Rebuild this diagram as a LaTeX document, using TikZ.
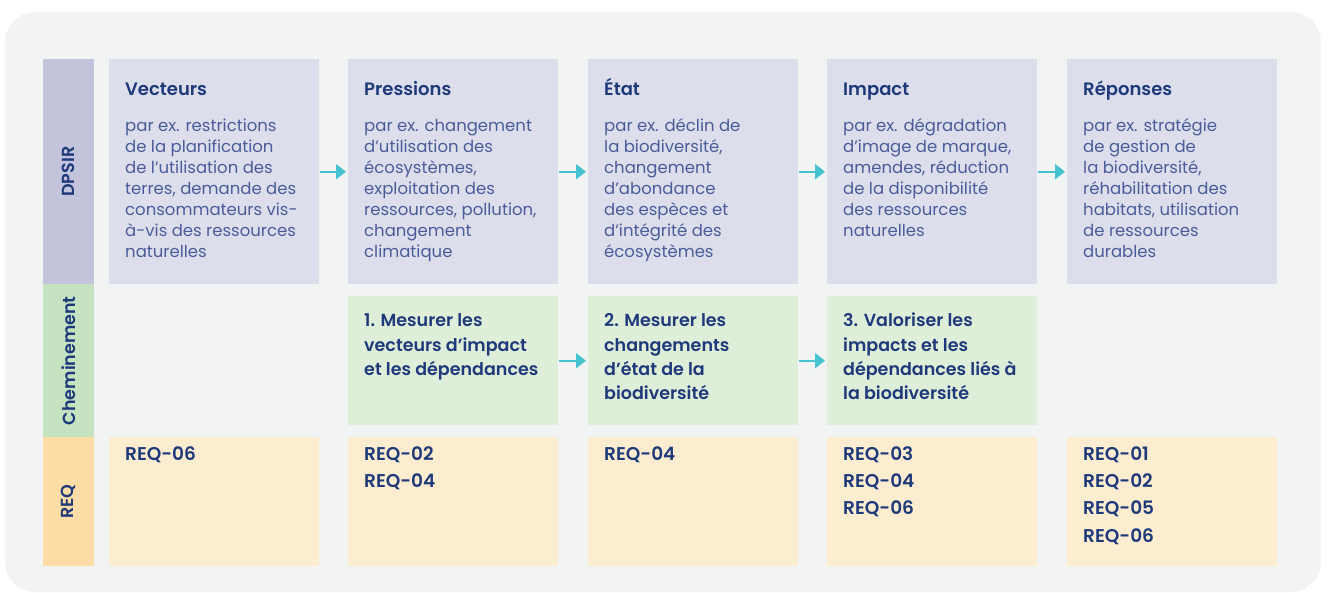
\documentclass[tikz,border=0pt]{standalone}
\usepackage{fontspec}
\setmainfont{Poppins}[BoldFont={Poppins SemiBold}]
\usetikzlibrary{arrows.meta,calc}
\definecolor{bgc}{HTML}{F2F4F3}
\definecolor{dlab}{HTML}{C3C3DC}
\definecolor{dbox}{HTML}{DCDEEC}
\definecolor{glab}{HTML}{C5E3C0}
\definecolor{gbox}{HTML}{DFEED9}
\definecolor{olab}{HTML}{FDDCA5}
\definecolor{obox}{HTML}{FDEDD0}
\definecolor{navy}{HTML}{1F3A7A}
\definecolor{bodyc}{HTML}{4B5C9A}
\definecolor{arr}{HTML}{45C3D0}
\tikzset{
  cell/.style={anchor=north west, inner sep=0pt, minimum width=210pt},
  dcell/.style={cell, fill=dbox, minimum height=225pt},
  gcell/.style={cell, fill=gbox, minimum height=129pt},
  ocell/.style={cell, fill=obox, minimum height=129pt},
  lab/.style={anchor=north west, inner sep=0pt, minimum width=51pt},
  labtxt/.style={rotate=90, text=navy, font=\fontsize{17.5}{20}\selectfont\bfseries},
  ttl/.style={anchor=base west, inner sep=0pt, text=navy, font=\fontsize{18}{20}\selectfont\bfseries},
  bod/.style={anchor=base west, inner sep=0pt, align=left, text=bodyc, font=\fontsize{16.5}{21}\selectfont},
  gtx/.style={anchor=base west, inner sep=0pt, align=left, text=navy, font=\fontsize{17.5}{24.2}\selectfont\bfseries},
  otx/.style={anchor=base west, inner sep=0pt, align=left, text=navy, font=\fontsize{18.5}{27.4}\selectfont\bfseries},
  flow/.style={draw=arr, line width=2pt, -{Triangle[length=10pt,width=15pt]}, shorten <=1pt, shorten >=2pt}
}
\begin{document}
\begin{tikzpicture}[x=1pt,y=-1pt]
\useasboundingbox (0,0) rectangle (1328,593);
\fill[bgc, rounded corners=30pt] (5,12) rectangle (1321,592);
% labels column
\node[lab, fill=dlab, minimum height=225pt] (ldp) at (43,59) {};
\node[lab, fill=glab, minimum height=153pt] (lch) at (43,284) {};
\node[lab, fill=olab, minimum height=129pt] (lrq) at (43,437) {};
\node[labtxt] at (ldp.center) {DPSIR};
\node[labtxt] at (lch.center) {Cheminement};
\node[labtxt] at (lrq.center) {REQ};
% DPSIR row
\node[dcell] (d1) at (109,59) {};
\node[dcell] (d2) at (348,59) {};
\node[dcell] (d3) at (588,59) {};
\node[dcell] (d4) at (827,59) {};
\node[dcell] (d5) at (1067,59) {};
\node[ttl] (t1) at (125,96) {Vecteurs};
\node[ttl] (t2) at (364,96) {Pressions};
\node[ttl] (t3) at (604,96) {État};
\node[ttl] (t4) at (843,96) {Impact};
\node[ttl] (t5) at (1083,96) {Réponses};
% anchors are the baseline of the last line
\node[bod] (b1) at (125,258) {par ex. restrictions\\de la planification\\de l’utilisation des\\terres, demande des\\consommateurs vis-\\à-vis des ressources\\naturelles};
\node[bod] (b2) at (364,258) {par ex. changement\\d’utilisation des\\écosystèmes,\\exploitation des\\ressources, pollution,\\changement\\climatique};
\node[bod] (b3) at (604,258) {par ex. déclin de\\la biodiversité,\\changement\\d’abondance\\des espèces et\\d’intégrité des\\écosystèmes};
\node[bod] (b4) at (843,237) {par ex. dégradation\\d’image de marque,\\amendes, réduction\\de la disponibilité\\des ressources\\naturelles};
\node[bod] (b5) at (1083,258) {par ex. stratégie\\de gestion de\\la biodiversité,\\réhabilitation des\\habitats, utilisation\\de ressources\\durables};
\draw[flow] (d1.east) -- (d2.west);
\draw[flow] (d2.east) -- (d3.west);
\draw[flow] (d3.east) -- (d4.west);
\draw[flow] (d4.east) -- (d5.west);
% Cheminement row
\node[gcell] (g2) at (348,296) {};
\node[gcell] (g3) at (588,296) {};
\node[gcell] (g4) at (827,296) {};
\node[gtx] (gt2) at (364,375.4) {1. Mesurer les\\vecteurs d’impact\\et les dépendances};
\node[gtx] (gt3) at (604,399.6) {2. Mesurer les\\changements\\d’état de la\\biodiversité};
\node[gtx] (gt4) at (843,399.6) {3. Valoriser les\\impacts et les\\dépendances liés à\\la biodiversité};
\draw[flow] (g2.east) -- (g3.west);
\draw[flow] (g3.east) -- (g4.west);
% REQ row
\node[ocell] (o1) at (109,437) {};
\node[ocell] (o2) at (348,437) {};
\node[ocell] (o3) at (588,437) {};
\node[ocell] (o4) at (827,437) {};
\node[ocell] (o5) at (1067,437) {};
\node[otx] (ot1) at (125,460) {REQ-06};
\node[otx] (ot2) at (364,487.4) {REQ-02\\REQ-04};
\node[otx] (ot3) at (604,460) {REQ-04};
\node[otx] (ot4) at (843,514.8) {REQ-03\\REQ-04\\REQ-06};
\node[otx] (ot5) at (1083,542.2) {REQ-01\\REQ-02\\REQ-05\\REQ-06};
\end{tikzpicture}
\end{document}
